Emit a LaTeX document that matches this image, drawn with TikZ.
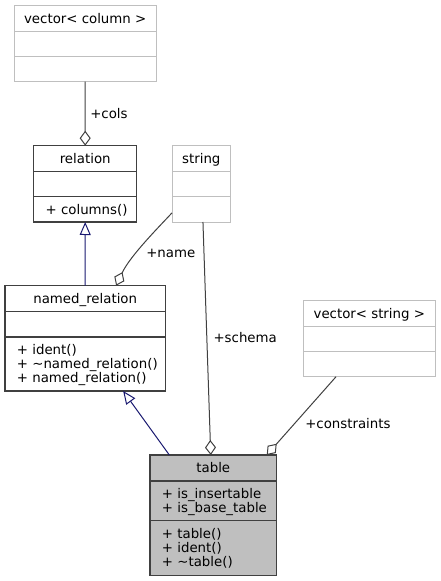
\documentclass[tikz,border=0pt]{standalone}
\usepackage{fontspec}
\setmainfont{DejaVu Sans}
\usetikzlibrary{arrows.meta,calc}
\definecolor{dk}{HTML}{404040}
\definecolor{lt}{HTML}{BFBFBF}
\definecolor{nv}{HTML}{191970}
\definecolor{tf}{HTML}{BFBFBF}
\newcommand\classbox[8]{%
  \node[#2, minimum width={(#5-#3)*0.75pt}, minimum height={(#6-#4)*0.75pt}] (#1) at ({(#3+#5)/2},{(#4+#6)/2}) {};
  \draw[divline, #2] (#3,#7) -- (#5,#7) (#3,#8) -- (#5,#8);
}
\begin{document}
\begin{tikzpicture}[x=0.75pt,y=-0.75pt,
  darkbox/.style={draw=dk, line width=1pt, rectangle, inner sep=0pt, outer sep=0pt},
  lightbox/.style={draw=lt, line width=0.75pt, rectangle, inner sep=0pt, outer sep=0pt},
  tablebox/.style={draw=dk, fill=tf, line width=1pt, rectangle, inner sep=0pt, outer sep=0pt},
  divline/.style={fill=none},
  lbl/.style={font=\fontsize{10pt}{12pt}\selectfont, inner sep=0pt, text height=7.2pt, text depth=0pt},
  mem/.style={lbl, anchor=west},
  agg/.style={draw=dk, line width=0.75pt, -{Diamond[open, length=11.25pt, width=8.25pt]}},
  inh/.style={draw=nv, line width=0.75pt, -{Triangle[open, length=9.75pt, width=8.25pt]}}
]
\useasboundingbox (0,0) rectangle (440,581);
% boxes
\classbox{vcol}{lightbox}{14.3}{5.3}{156}{81.7}{31.7}{56.7}
\classbox{rel}{darkbox}{33.7}{145.7}{136.7}{222}{171.7}{196.7}
\classbox{str}{lightbox}{172}{145.7}{230.7}{222}{171.7}{196.7}
\classbox{nr}{darkbox}{5}{285.7}{165.3}{391}{311.7}{337}
\classbox{vstr}{lightbox}{303.7}{300.7}{435}{376.7}{326.3}{351.3}
\classbox{tab}{tablebox}{150}{455}{276.7}{575.3}{481}{520.7}
% texts
\node[lbl] (tvcol) at (85.2,18.8) {vector< column >};
\node[lbl] (trel) at (85.2,158.9) {relation};
\node[mem] (rel1) at (45.4,209.3) {+ columns()};
\node[lbl] (tstr) at (201.3,158.9) {string};
\node[lbl] (tnr) at (85.2,298.6) {named\_relation};
\node[mem] (nr1) at (16.7,349.2) {+ ident()};
\node[mem] (nr2) at (16.7,363.4) {+ \textasciitilde named\_relation()};
\node[mem] (nr3) at (16.7,377.6) {+ named\_relation()};
\node[lbl] (tvstr) at (369.3,313.9) {vector< string >};
\node[lbl] (ttab) at (213.3,467.8) {table};
\node[mem] (tab1) at (161.7,493.5) {+ is\_insertable};
\node[mem] (tab2) at (161.7,507.7) {+ is\_base\_table};
\node[mem] (tab3) at (161.7,533.3) {+ table()};
\node[mem] (tab4) at (161.7,547.5) {+ ident()};
\node[mem] (tab5) at (161.7,561.7) {+ \textasciitilde table()};
% connectors
\draw[agg] (vcol.south) -- (rel.north);
\draw[inh] (nr.north) -- (rel.south);
\draw[agg] ($(str.west)+(0,29)$) .. controls ($(str.west)+(-12,42)$) and ($(nr.north)+(45,-30)$) .. ($(nr.north)+(31,0)$);
\draw[agg] ($(str.south)+(1.6,0)$) -- ($(tab.north)+(-2.6,0)$);
\draw[inh] ($(tab.north)+(-44,0)$) -- ($(nr.south)+(38,0)$);
\draw[agg] ($(vstr.south)+(-33.3,0)$) -- ($(tab.north)+(53.4,0)$);
% labels
\node[mem] (lcols) at (90,113.5) {+cols};
\node[mem] (lname) at (146,253) {+name};
\node[mem] (lschema) at (213.3,338) {+schema};
\node[mem] (lcons) at (305,423.5) {+constraints};
\end{tikzpicture}
\end{document}
